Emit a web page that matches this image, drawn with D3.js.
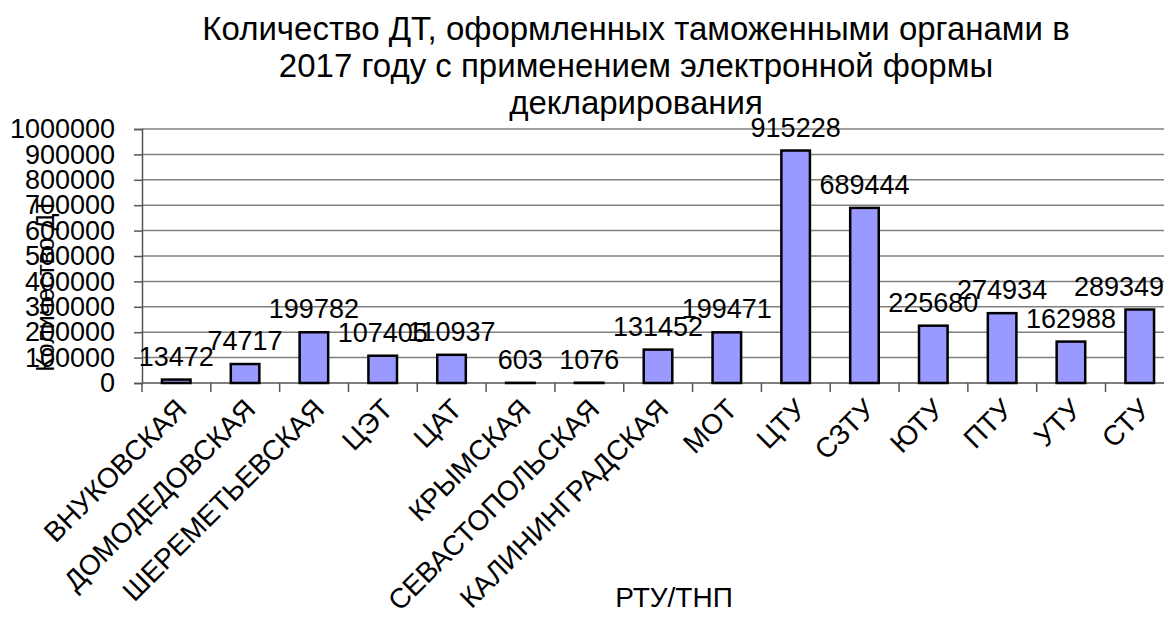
<!DOCTYPE html>
<html>
<head>
<meta charset="utf-8">
<script src="https://cdn.jsdelivr.net/npm/d3@7"></script>
<style>
  body { margin: 0; background: #fff; }
  text { font-family: "Liberation Sans", Arial, sans-serif; fill: #000; }
</style>
</head>
<body>
<div id="main"></div>
<script>
const categories = ["ВНУКОВСКАЯ", "ДОМОДЕДОВСКАЯ", "ШЕРЕМЕТЬЕВСКАЯ", "ЦЭТ", "ЦАТ", "КРЫМСКАЯ",
    "СЕВАСТОПОЛЬСКАЯ", "КАЛИНИНГРАДСКАЯ", "МОТ", "ЦТУ", "СЗТУ", "ЮТУ", "ПТУ", "УТУ", "СТУ"];
const values = [13472, 74717, 199782, 107405, 110937, 603, 1076, 131452, 199471,
    915228, 689444, 225680, 274934, 162988, 289349];
const yTicks = [0, 100000, 200000, 300000, 400000, 500000, 600000, 700000, 800000, 900000, 1000000];
const titleLines = ["Количество ДТ, оформленных таможенными органами в",
    "2017 году с применением электронной формы", "декларирования"];

const width = 1164, height = 619;
const margin = {left: 142, right: -10, top: 129, bottom: 236};

const svg = d3.select("#main").append("svg")
    .attr("width", width)
    .attr("height", height);

const x = d3.scaleBand()
    .domain(categories)
    .range([margin.left, width - margin.right])
    .paddingInner(0.585)
    .paddingOuter(0.29);

const y = d3.scaleLinear()
    .domain([0, 1000000])
    .range([height - margin.bottom, margin.top]);

// grid lines
svg.append("g")
    .selectAll("line")
    .data(yTicks.slice(1))
    .enter()
    .append("line")
    .attr("x1", margin.left)
    .attr("x2", width - margin.right)
    .attr("y1", d => y(d))
    .attr("y2", d => y(d))
    .attr("stroke", "#808080")
    .attr("stroke-width", 1.5);

// y axis
const yAxis = svg.append("g")
    .attr("transform", `translate(${margin.left},0)`)
    .call(d3.axisLeft(y).tickValues(yTicks).tickSize(8).tickPadding(19).tickFormat(d3.format("d")));
yAxis.select(".domain").attr("stroke", "#555").attr("stroke-width", 1.5);
yAxis.selectAll(".tick line").attr("stroke", "#555").attr("stroke-width", 1.5);
yAxis.selectAll("text")
    .attr("font-size", 27)
    .attr("font-family", "Liberation Sans, Arial, sans-serif")
    .attr("fill", "#000");

// x axis: ticks sit on category boundaries
const bw = x.step();
const boundaries = d3.range(categories.length + 1).map(i => margin.left + i * bw);
svg.append("line")
    .attr("x1", margin.left)
    .attr("x2", width - margin.right)
    .attr("y1", y(0))
    .attr("y2", y(0))
    .attr("stroke", "#555")
    .attr("stroke-width", 1.5);
svg.append("g")
    .selectAll("line")
    .data(boundaries)
    .enter()
    .append("line")
    .attr("x1", d => d)
    .attr("x2", d => d)
    .attr("y1", y(0))
    .attr("y2", y(0) + 9)
    .attr("stroke", "#555")
    .attr("stroke-width", 1.5);

// bars
svg.append("g")
    .selectAll("rect")
    .data(values)
    .enter()
    .append("rect")
    .attr("x", (d, i) => x(categories[i]))
    .attr("y", d => y(d))
    .attr("width", x.bandwidth())
    .attr("height", d => y(0) - y(d))
    .attr("fill", "#9999ff")
    .attr("stroke", "#000")
    .attr("stroke-width", 2.5);

// value labels, pushed back inside the picture when they would run off the right edge
svg.append("g")
    .selectAll("text")
    .data(values)
    .enter()
    .append("text")
    .attr("x", (d, i) => x(categories[i]) + x.bandwidth() / 2)
    .attr("y", d => y(d) - 14)
    .attr("text-anchor", "middle")
    .attr("font-size", 27)
    .text(d => d)
    .each(function () {
        const w = this.getComputedTextLength();
        const cx = +this.getAttribute("x");
        if (cx + w / 2 > width) this.setAttribute("x", width - w / 2);
    });

// category labels, rotated
svg.append("g")
    .selectAll("text")
    .data(categories)
    .enter()
    .append("text")
    .attr("transform", d => `translate(${x(d) + x.bandwidth() / 2 + 12},${y(0) + 28}) rotate(-45)`)
    .attr("text-anchor", "end")
    .attr("font-size", 28)
    .text(d => d);

// title
svg.append("g")
    .selectAll("text")
    .data(titleLines)
    .enter()
    .append("text")
    .attr("x", 636)
    .attr("y", (d, i) => 40 + i * 37)
    .attr("text-anchor", "middle")
    .attr("font-size", 33)
    .text(d => d);

// axis titles
svg.append("text")
    .attr("x", 674)
    .attr("y", 607)
    .attr("text-anchor", "middle")
    .attr("font-size", 28)
    .text("РТУ/ТНП");

svg.append("text")
    .attr("transform", "translate(54,285) rotate(-90)")
    .attr("text-anchor", "middle")
    .attr("font-size", 25)
    .text("Количество ДТ");
</script>
</body>
</html>
